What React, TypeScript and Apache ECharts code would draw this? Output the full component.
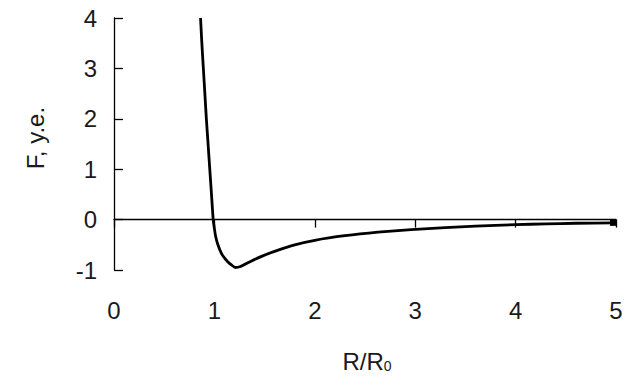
import React, { useEffect, useRef } from "react";
import * as echarts from "echarts";

const rValues = [0.862, 0.875, 0.89, 0.905, 0.92, 0.937, 0.954, 0.971, 0.988, 1.0, 1.012, 1.035, 1.07, 1.1, 1.13, 1.17, 1.21, 1.26, 1.35, 1.47, 1.6, 1.8, 2.0, 2.3, 2.63, 2.96, 3.3, 3.6, 4.0, 4.3, 4.6, 4.97];
const fValues = [4.0, 3.5, 3.0, 2.5, 2.0, 1.5, 1.0, 0.5, 0.0, -0.18, -0.33, -0.5, -0.67, -0.76, -0.83, -0.9, -0.95, -0.93, -0.84, -0.73, -0.63, -0.5, -0.41, -0.32, -0.25, -0.2, -0.16, -0.13, -0.1, -0.085, -0.072, -0.065];
const xTicks = { min: 0, max: 5, interval: 1 };
const yTicks = { min: -1, max: 4, interval: 1 };
const yTitle = "F, y.e.";
const xTitleMain = "R/R";
const xTitleSub = "0";

const FONT = "'Liberation Sans', Arial, sans-serif";
const TEXT = "#1a1a1a";

export default function App() {
  const ref = useRef<HTMLDivElement>(null);
  useEffect(() => {
    if (!ref.current) return;
    const chart = echarts.init(ref.current, undefined, { renderer: "svg" });
    const last = rValues.length - 1;
    const data = rValues.map((r, i) =>
      i === last
        ? { value: [r, fValues[i]], symbol: "rect", symbolSize: 6, itemStyle: { color: "#000", borderWidth: 0 } }
        : { value: [r, fValues[i]], symbol: "none" }
    );
    chart.setOption({
      animation: false,
      backgroundColor: "#ffffff",
      grid: { left: 114, right: 19, top: 18, bottom: 106, outerBoundsMode: "none" },
      xAxis: [
        {
          type: "value",
          position: "bottom",
          ...xTicks,
          axisLine: { show: true, onZero: true, lineStyle: { color: "#000", width: 1.3 } },
          axisTick: { show: true, inside: false, length: 8, lineStyle: { color: "#000", width: 1.3 } },
          axisLabel: { show: false },
          splitLine: { show: false },
        },
        {
          type: "value",
          position: "bottom",
          ...xTicks,
          axisLine: { show: false, onZero: false },
          axisTick: { show: false },
          axisLabel: { show: true, margin: 28, fontSize: 24, fontFamily: FONT, color: TEXT },
          splitLine: { show: false },
        },
      ],
      yAxis: {
        type: "value",
        ...yTicks,
        axisLine: { show: true, onZero: false, lineStyle: { color: "#000", width: 1.3 } },
        axisTick: { show: true, inside: true, length: 9, lineStyle: { color: "#000", width: 1.3 } },
        axisLabel: { margin: 17, fontSize: 24, fontFamily: FONT, color: TEXT },
        splitLine: { show: false },
      },
      series: [
        {
          type: "line",
          xAxisIndex: 0,
          data,
          showSymbol: true,
          symbol: "none",
          smooth: 0.2,
          lineStyle: { color: "#000", width: 2.8 },
        },
      ],
      graphic: [
        {
          type: "text",
          x: 35,
          y: 138,
          rotation: Math.PI / 2,
          style: {
            text: yTitle,
            fontSize: 24,
            fontFamily: FONT,
            fill: TEXT,
            align: "center",
            verticalAlign: "middle",
          },
        },
        {
          type: "text",
          x: 367,
          y: 361,
          style: {
            text: `{m|${xTitleMain}}{s|${xTitleSub}}`,
            align: "center",
            verticalAlign: "middle",
            rich: {
              m: { fontSize: 24, fontFamily: FONT, fill: TEXT },
              s: { fontSize: 14, fontFamily: FONT, fill: TEXT, padding: [10, 0, 0, 0] },
            },
          },
        },
      ],
    });
    return () => chart.dispose();
  }, []);
  return (
    <div
      ref={ref}
      style={{ position: "fixed", left: 0, top: 0, width: 635, height: 376, background: "#fff" }}
    />
  );
}
